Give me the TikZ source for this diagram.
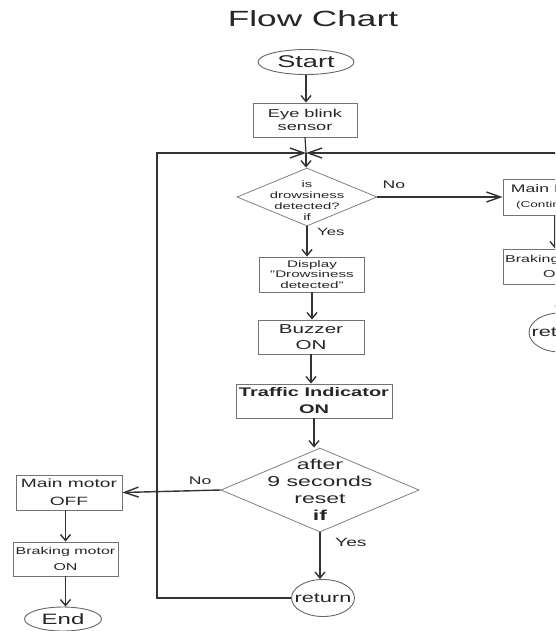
\documentclass[tikz,border=0pt]{standalone}
\usepackage{fontspec}
\setmainfont{Liberation Sans}[FakeStretch=1.6]
\usepackage{tikz}
\usetikzlibrary{shapes.geometric,arrows.meta,positioning}
\newcommand{\fsize}[2]{\fontsize{#1}{#2}\selectfont}
\tikzset{
	block/.style={
		draw=black!55, rectangle, line width=0.9pt,
		align=center, inner sep=0pt, text=black!85
	},
	oval/.style={
		draw=black!60, ellipse, line width=0.9pt,
		align=center, inner sep=0pt, text=black!85
	},
	decision/.style={
		draw=black!50, diamond, line width=0.8pt,
		inner sep=0pt
	},
	flow/.style={
		-{Straight Barb[length=6pt,width=10pt]},
		line width=1.4pt, draw=black!80
	},
	flowlong/.style={flow, -{Straight Barb[length=14pt,width=10pt]}},
	loopline/.style={line width=1.2pt, draw=black!80},
	tag/.style={text=black!85, inner sep=0pt}
}

\begin{document}
\begin{tikzpicture}[x=1pt,y=-1pt]
	\useasboundingbox (0,0) rectangle (555,631);
	\clip (0,0) rectangle (555,631);

	\node[tag, font=\fsize{22}{26}] (title) at (313,19) {Flow Chart};
	\node[oval, minimum width=96pt, minimum height=25pt, font=\fsize{17}{20}] (start) at (306,62) {Start};
	\node[block, minimum width=104pt, minimum height=34pt, font=\fsize{11.4}{12.5}] (eye) at (305,120) {Eye blink\\sensor};
	\coordinate (junc) at (306,153);
	\coordinate (loopx) at (157,153);
	\node[decision, minimum width=140pt, minimum height=58pt,
		label={[name=d1txt, align=center, text=black!85, font=\fsize{9.3}{11}, yshift=-4pt]center:is\\drowsiness\\detected?\\if}] (d1) at (307,197) {};
	\node[block, minimum width=105pt, minimum height=35pt, font=\fsize{9.5}{10.5}] (disp) at (312,274.5) {Display\\"Drowsiness\\detected"};
	\node[block, minimum width=106pt, minimum height=34pt, font=\fsize{12.9}{16}] (buzz) at (311,337) {Buzzer\\ON};
	\node[block, minimum width=156pt, minimum height=34pt, font=\bfseries\fsize{12.5}{17}] (traf) at (314,401) {Traffic Indicator\\ON};
	\node[decision, minimum width=198pt, minimum height=84pt,
		label={[name=d2txt, align=center, text=black!85, font=\fsize{14.4}{17}]center:after\\9 seconds\\reset\\\textbf{if}}] (d2) at (320,490) {};
	\node[oval, minimum width=63pt, minimum height=37pt,
		label={[name=rettxt, tag, font=\fsize{13.6}{16}]center:return}] (ret) at (323,598) {};

	% left column
	\node[block, minimum width=106pt, minimum height=35pt, font=\fsize{12}{18}] (mm) at (69,492.5) {Main motor\\OFF};
	\node[block, minimum width=105pt, minimum height=34pt, font=\fsize{10}{16}] (bm) at (65.5,559) {Braking motor\\ON};
	\node[oval, minimum width=77pt, minimum height=24pt, font=\fsize{15}{18}] (endn) at (63,619) {End};

	% right column
	\node[block, minimum width=104pt, minimum height=36pt, font=\fsize{11}{15}] (mainR) at (555,197) {Main Motor\\{\fsize{8.5}{11}(Continuous)}};
	\node[block, minimum width=104pt, minimum height=35pt, font=\fsize{10}{15}] (brakeR) at (555,266.5) {Braking motor\\ON};
	\node[oval, minimum width=62pt, minimum height=39pt,
		label={[name=retRtxt, tag, font=\fsize{13.6}{16}]center:return}] (retR) at (560,332.5) {};

	\node[tag, font=\fsize{11}{13}, anchor=south west] (no1) at ([xshift=5pt,yshift=8pt]d1.east) {No};
	\node[tag, font=\fsize{10.5}{12}, anchor=west] (yes1) at ([xshift=10pt,yshift=-6pt]d1.south) {Yes};
	\node[tag, font=\fsize{11}{13}, anchor=south east] (no2) at ([xshift=-9pt,yshift=5pt]d2.west) {No};
	\node[tag, font=\fsize{12}{14}, anchor=west] (yes2) at ([xshift=15pt,yshift=-10pt]d2.south) {Yes};

	\draw[flow] (start.south) -- (start.south |- eye.north);
	\draw[loopline] (eye.south) -- (junc);
	\draw[flow] (junc) -- (junc |- d1.north);
	\draw[flowlong] (ret.west) -| (loopx) -- (junc);
	\draw[flowlong] (retR.east) -- ++(15,0) |- (junc);
	\draw[flowlong] (d1.east) -- (mainR.west);
	\draw[flow] (mainR.south) -- (brakeR.north);
	\draw[flow] (brakeR.south -| retR.north) -- (retR.north);
	\draw[flow] (d1.south) -- (d1.south |- disp.north);
	\draw[flow] (disp.south) -- (disp.south |- buzz.north);
	\draw[flow] (buzz.south) -- (buzz.south |- traf.north);
	\draw[flow] (traf.south) -- (traf.south |- d2.north);
	\draw[flow] (d2.south) -- (d2.south |- ret.north);
	\draw[flowlong] (d2.west) -- (mm.east);
	\draw[flow] (bm.north |- mm.south) -- (bm.north);
	\draw[flow] (bm.south) -- (bm.south |- endn.north);
\end{tikzpicture}
\end{document}
